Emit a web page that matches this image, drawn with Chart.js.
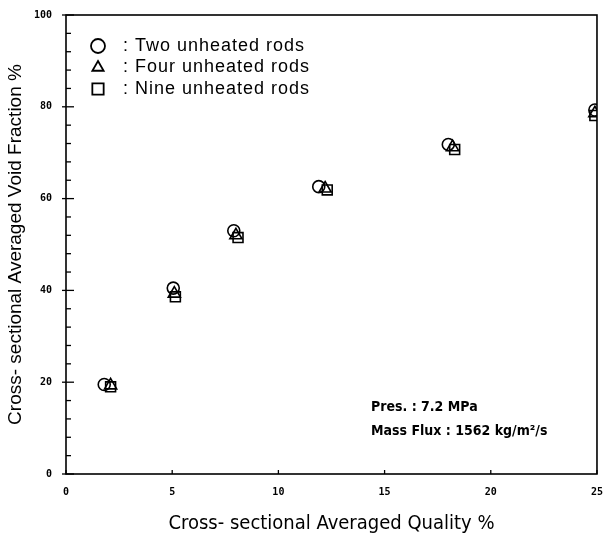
<!DOCTYPE html>
<html>
<head>
<meta charset="utf-8">
<script src="https://cdn.jsdelivr.net/npm/chart.js@4/dist/chart.umd.min.js"></script>
<style>
  html, body { margin: 0; padding: 0; background: #fff; }
  #wrap { width: 607px; height: 540px; }
</style>
</head>
<body>
<div id="wrap"><canvas id="voidChart"></canvas></div>
<script>
// data (quality %, void fraction %)
const seriesNames = ["Two unheated rods", "Four unheated rods", "Nine unheated rods"];
const twoRods = [[1.8, 19.5], [5.05, 40.5], [7.9, 53.0], [11.9, 62.6], [18.0, 71.8], [24.9, 79.3]];
const fourRods = [[2.1, 19.3], [5.1, 39.3], [8.0, 52.0], [12.2, 62.2], [18.2, 71.2], [24.9, 78.6]];
const nineRods = [[2.1, 19.0], [5.15, 38.6], [8.1, 51.5], [12.3, 61.9], [18.3, 70.7], [24.9, 78.1]];
const xTicks = [0, 5, 10, 15, 20, 25];
const yTicks = [0, 20, 40, 60, 80, 100];

const toPts = (arr) => arr.map((p) => ({ x: p[0], y: p[1] }));

function makeSet(label, pts, style, r) {
  return {
    label: label,
    data: toPts(pts),
    pointStyle: style,
    pointRadius: r,
    pointBorderColor: "#000",
    pointBackgroundColor: "rgba(255,255,255,0)",
    pointBorderWidth: 1.6,
    showLine: false,
  };
}

// frame, inward ticks, legend and notes
const decor = {
  id: "decor",
  afterDraw(chart) {
    const ctx = chart.ctx;
    const a = chart.chartArea;
    const xs = chart.scales.x;
    const ys = chart.scales.y;
    ctx.save();
    ctx.strokeStyle = "#000";
    ctx.lineWidth = 1.6;
    ctx.strokeRect(a.left, a.top, a.right - a.left, a.bottom - a.top);

    // small ticks on the y axis every 4 units
    ctx.lineWidth = 1.3;
    for (let v = 0; v <= 100; v += 4) {
      const py = ys.getPixelForValue(v);
      const len = v % 20 === 0 ? 8 : 5;
      ctx.beginPath();
      ctx.moveTo(a.left - (v % 20 === 0 ? 4 : 0), py);
      ctx.lineTo(a.left + len, py);
      ctx.stroke();
    }
    xTicks.forEach((v) => {
      const px = xs.getPixelForValue(v);
      ctx.beginPath();
      ctx.moveTo(px, a.bottom);
      ctx.lineTo(px, a.bottom - 4);
      ctx.stroke();
    });

    // legend inside the plot
    const styles = ["circle", "triangle", "rect"];
    const radii = [7, 6.5, 8];
    ctx.textBaseline = "middle";
    seriesNames.forEach((name, i) => {
      const ly = 46 + i * 21.5;
      ctx.fillStyle = "rgba(255,255,255,0)";
      ctx.strokeStyle = "#000";
      ctx.lineWidth = 1.8;
      Chart.helpers.drawPoint(ctx, { pointStyle: styles[i], radius: radii[i], borderWidth: 1.8 }, 98, ly);
      ctx.fillStyle = "#000";
      ctx.font = "18px 'Liberation Sans', Arial, sans-serif";
      ctx.letterSpacing = "1px";
      ctx.fillText(": " + name, 123, ly);
    });

    ctx.letterSpacing = "0px";
    ctx.font = "bold 14px 'DejaVu Sans Condensed', 'Liberation Sans Narrow', sans-serif";
    ctx.fillText("Pres. : 7.2 MPa", 371, 407);
    ctx.fillText("Mass Flux : 1562 kg/m\u00B2/s", 371, 431);
    ctx.restore();
  },
};

new Chart(document.getElementById("voidChart"), {
  type: "scatter",
  data: {
    datasets: [
      makeSet(seriesNames[0], twoRods, "circle", 6),
      makeSet(seriesNames[1], fourRods, "triangle", 7),
      makeSet(seriesNames[2], nineRods, "rect", 7),
    ],
  },
  options: {
    responsive: true,
    maintainAspectRatio: false,
    animation: false,
    layout: { padding: { top: 15, right: 5, left: 0, bottom: 0 } },
    plugins: {
      legend: { display: false },
      tooltip: { enabled: false },
    },
    scales: {
      x: {
        type: "linear",
        min: 0,
        max: 25,
        afterBuildTicks: (s) => { s.ticks = xTicks.map((v) => ({ value: v })); },
        grid: { display: false },
        border: { display: false },
        ticks: {
          color: "#000",
          padding: 4,
          font: { family: "'DejaVu Sans Mono', monospace", size: 10, weight: "bold" },
        },
        title: {
          display: true,
          text: "Cross- sectional Averaged Quality %",
          color: "#000",
          padding: { top: 12 },
          font: { family: "'DejaVu Sans Condensed', 'Liberation Sans Narrow', sans-serif", size: 20 },
        },
        afterFit: (s) => { s.height = 66; },
      },
      y: {
        type: "linear",
        min: 0,
        max: 100,
        afterBuildTicks: (s) => { s.ticks = yTicks.map((v) => ({ value: v })); },
        grid: { display: false },
        border: { display: false },
        ticks: {
          color: "#000",
          padding: 6,
          font: { family: "'DejaVu Sans Mono', monospace", size: 10, weight: "bold" },
        },
        title: {
          display: true,
          text: "Cross- sectional Averaged Void Fraction %",
          color: "#000",
          padding: { bottom: 4 },
          font: { family: "'Liberation Sans', Arial, sans-serif", size: 19 },
        },
        afterFit: (s) => { s.width = 66; },
      },
    },
  },
  plugins: [decor],
});
</script>
</body>
</html>
